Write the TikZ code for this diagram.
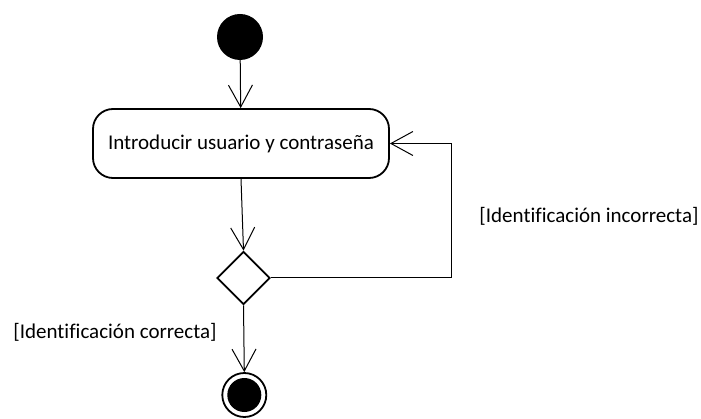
\documentclass[tikz,border=0pt]{standalone}
\usepackage{fontspec}
\setmainfont{Carlito}[Ligatures=NoCommon]
\usepackage{tikz}
\usetikzlibrary{arrows.meta}
\usetikzlibrary{shapes.geometric}
\tikzset{
	every node/.style={font=\fontsize{21}{25}\selectfont},
	flow/.style={
		line width=1pt,
		-{Straight Barb[length=22pt,width=24pt,line width=1pt]}
	},
	start/.style={
		circle,
		fill=black,
		inner sep=0pt,
		minimum size=46pt,
	},
	action/.style={
		draw,
		rectangle,
		rounded corners=20pt,
		line width=1.8pt,
		minimum width=296pt,
		minimum height=69pt,
	},
	choice/.style={
		draw,
		diamond,
		line width=1.8pt,
		inner sep=0pt,
		minimum width=53pt,
		minimum height=53pt,
	},
	stop/.style={
		draw,
		circle,
		line width=1.8pt,
		inner sep=0pt,
		minimum size=44pt,
		path picture={\fill (path picture bounding box.center) circle (17pt);},
	},
	guard/.style={inner sep=0pt},
}

\begin{document}
\begin{tikzpicture}[x=1pt,y=-1pt]
		\useasboundingbox (0,0) rectangle (701,419);

		\node[start]  (init)  at (240,37) {};
		\node[action] (login) at (241,143.5) {Introducir usuario y contrase\~na};
		\node[choice] (check) at (243.5,278) {};
		\node[stop]   (final) at (244.3,395) {};

		\coordinate (back) at (451,278);

		\draw[flow] (init) -- (login);
		\draw[flow] (login.south) -- (check.north);
		\draw[flow] (check.east) -- (back) |- (login.east);
		\draw[flow] (check.south) -- (final.north);

		\node[guard] (wrong) at (589,216) {[Identificación incorrecta]};
		\node[guard] (right) at (115,332.5) {[Identificación correcta]};

	\end{tikzpicture}
\end{document}
